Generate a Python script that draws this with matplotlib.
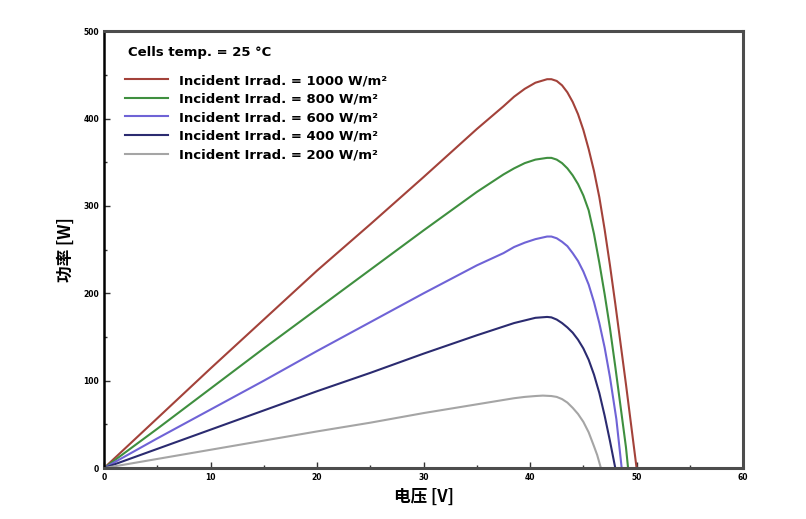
import matplotlib
matplotlib.use("Agg")
import matplotlib.pyplot as plt
from matplotlib.ticker import MultipleLocator

# 读图估计的 P-V 曲线 (电压 V, 功率 W)
v_1000 = [0, 5, 10, 15, 20, 25, 30, 35, 37.5, 38.5, 39.5, 40.5, 41.6, 42.0, 42.5, 43.0, 43.5, 44.0,
          44.5, 45.0, 45.5, 46.0, 46.5, 47.0, 47.5, 48.0, 48.5, 49.0, 49.5, 50.0]
p_1000 = [0, 57, 114, 170, 226, 279, 333, 388, 414, 425, 434, 441, 445, 445, 443, 438, 430, 419,
          405, 387, 365, 340, 310, 273, 232, 188, 142, 96, 48, 0]

v_800 = [0, 5, 10, 15, 20, 25, 30, 35, 37.5, 38.5, 39.5, 40.5, 41.6, 42.0, 42.5, 43.0, 43.5, 44.0,
         44.5, 45.0, 45.5, 46.0, 46.5, 47.0, 47.5, 48.0, 48.5, 49.0, 49.2]
p_800 = [0, 45, 91, 137, 182, 227, 272, 316, 336, 343, 349, 353, 355, 355, 353, 349, 343, 335,
         325, 312, 295, 268, 235, 199, 160, 116, 70, 24, 0]

v_600 = [0, 5, 10, 15, 20, 25, 30, 35, 37.5, 38.5, 39.5, 40.5, 41.6, 42.0, 42.5, 43.0, 43.5, 44.0,
         44.5, 45.0, 45.5, 46.0, 46.5, 47.0, 47.5, 48.1, 48.6]
p_600 = [0, 34, 67, 100, 134, 167, 200, 232, 246, 253, 258, 262, 265, 265, 263, 259, 254, 246,
         237, 225, 210, 190, 166, 138, 104, 56, 0]

v_400 = [0, 5, 10, 15, 20, 25, 30, 35, 37.5, 38.5, 39.5, 40.5, 41.6, 42.0, 42.5, 43.0, 43.5, 44.0,
         44.5, 45.0, 45.5, 46.0, 46.5, 47.0, 47.5, 48.0]
p_400 = [0, 22, 44, 66, 88, 109, 131, 152, 162, 166, 169, 172, 173, 172.5, 170, 166, 161, 155,
         147, 137, 124, 107, 86, 60, 31, 0]

v_200 = [0, 5, 10, 15, 20, 25, 30, 35, 37.5, 38.5, 39.5, 40.5, 41.2, 42.0, 42.5, 43.0, 43.5, 44.0,
         44.5, 45.0, 45.5, 46.0, 46.3, 46.65]
p_200 = [0, 10.5, 21, 31.5, 42, 52, 63, 73, 78, 80, 81.5, 82.5, 83, 82.5, 81.5, 79, 75, 69,
         62, 53, 41, 25, 15, 0]

labels = ["Incident Irrad. = 1000 W/m²", "Incident Irrad. = 800 W/m²",
          "Incident Irrad. = 600 W/m²", "Incident Irrad. = 400 W/m²",
          "Incident Irrad. = 200 W/m²"]
colors = ["#a3423a", "#3f8f3f", "#6f63d6", "#2b2b70", "#a5a5a5"]

cjk = ["Noto Sans CJK SC", "DejaVu Sans"]

fig = plt.figure(figsize=(8.06, 5.19), dpi=100)
ax = fig.add_axes([0.129, 0.098, 0.793, 0.842])

series = [(v_1000, p_1000), (v_800, p_800), (v_600, p_600), (v_400, p_400), (v_200, p_200)]
for (v, p), c, lab in zip(series, colors, labels):
    ax.plot(v, p, color=c, lw=1.5, label=lab)

ax.set_xlim(0, 60)
ax.set_ylim(0, 500)
ax.xaxis.set_major_locator(MultipleLocator(10))
ax.xaxis.set_minor_locator(MultipleLocator(5))
ax.yaxis.set_major_locator(MultipleLocator(100))
ax.yaxis.set_minor_locator(MultipleLocator(50))
ax.tick_params(which="both", direction="in", labelsize=5.5, width=1, color="#333333")
ax.tick_params(which="major", length=4)
ax.tick_params(which="minor", length=2.5)
for t in ax.get_xticklabels() + ax.get_yticklabels():
    t.set_fontweight("bold")

ax.spines["left"].set_linewidth(1.8)
ax.spines["left"].set_color("black")
for s in ["top", "right", "bottom"]:
    ax.spines[s].set_linewidth(2.2)
    ax.spines[s].set_color("#4d4d4d")

ax.set_xlabel("电压 [V]", family=cjk, fontsize=12, fontweight="bold", labelpad=4)
ax.set_ylabel("功率 [W]", family=cjk, fontsize=12, fontweight="bold", labelpad=6)

# 图例标题单独放, 便于控制间距
ax.text(0.037, 0.95, "Cells temp. = 25 °C", transform=ax.transAxes,
        fontsize=9.5, fontweight="bold", va="center", ha="left")
leg = ax.legend(loc="upper left", bbox_to_anchor=(0.02, 0.92), frameon=False,
                handlelength=3.3, handletextpad=0.8, labelspacing=0.42, borderaxespad=0.2,
                prop={"weight": "bold", "size": 9.5})

fig.savefig("out.png", dpi=100)
